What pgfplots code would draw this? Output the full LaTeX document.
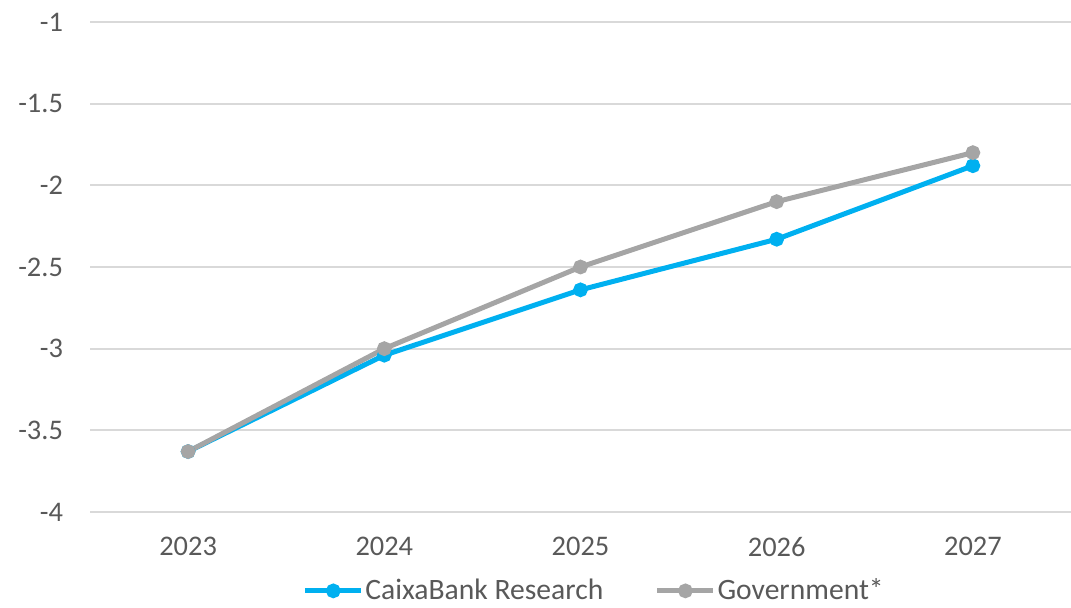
\documentclass[border=0pt]{standalone}
\usepackage{pgfplots}
\pgfplotsset{compat=1.18}
\usepackage{fontspec}
\setmainfont{Carlito}
\definecolor{caixa}{HTML}{00B0F0}
\definecolor{gov}{HTML}{A5A5A5}
\definecolor{gridc}{HTML}{D9D9D9}
\definecolor{txt}{HTML}{595959}
\begin{document}
\begin{tikzpicture}
\useasboundingbox (-45pt,-48pt) rectangle (490.5pt,256pt);
\begin{axis}[
  scale only axis,
  width=490.5pt, height=245pt,
  xmin=-0.5, xmax=4.5,
  ymin=-4, ymax=-1,
  xtick={0,1,2,3,4},
  xticklabels={2023,2024,2025,2026,2027},
  ytick={-4,-3.5,-3,-2.5,-2,-1.5,-1},
  yticklabels={-4,-3.5,-3,-2.5,-2,-1.5,-1},
  axis line style={draw=none},
  major tick length=0pt,
  ymajorgrids,
  grid style={gridc, line width=1pt},
  ticklabel style={font=\fontsize{14.2}{16}\selectfont, text=txt},
  xticklabel style={yshift=-9pt},
  yticklabel style={xshift=-10pt},
  legend image code/.code={%
    \draw[mark repeat=2, mark phase=2, #1]
      plot coordinates {(0pt,0pt) (14pt,0pt) (28pt,0pt)};},
  legend style={
    at={(0.5138,-0.161)}, anchor=center,
    draw=none, fill=none,
    legend columns=2,
    font=\fontsize{14.8}{16}\selectfont, text=txt,
    nodes={inner xsep=0.8pt, inner ysep=1pt},
    /tikz/every even column/.append style={column sep=25pt},
  },
  legend cell align=left,
  clip=false,
]
\addplot[caixa, line width=2.5pt, mark=*, mark size=2.4pt,
  mark options={fill=caixa, draw=caixa}]
  coordinates {(0,-3.63) (1,-3.04) (2,-2.64) (3,-2.33) (4,-1.88)};
\addlegendentry{CaixaBank Research}
\addplot[gov, line width=2.5pt, mark=*, mark size=2.4pt,
  mark options={fill=gov, draw=gov}]
  coordinates {(0,-3.63) (1,-3.0) (2,-2.5) (3,-2.1) (4,-1.8)};
\addlegendentry{Government*}
\end{axis}
\end{tikzpicture}
\end{document}
